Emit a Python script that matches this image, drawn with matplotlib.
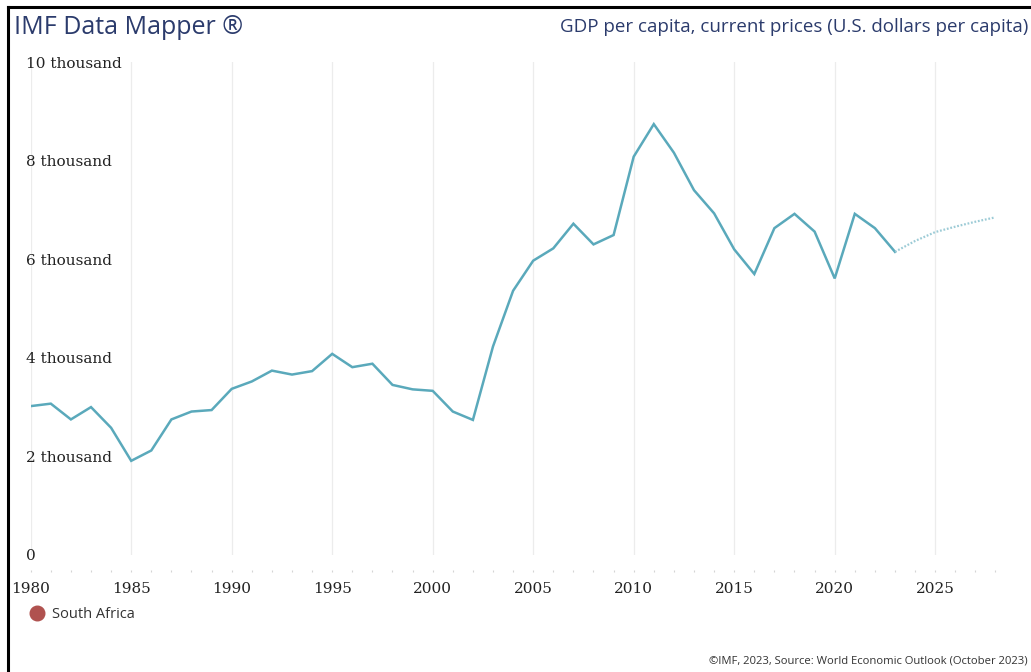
import matplotlib
matplotlib.use("Agg")
from matplotlib import pyplot as plt
from matplotlib.lines import Line2D
import numpy as np

# data (GDP per capita, thousands of US$)
years = list(range(1980, 2024))
gdp = [3.02, 3.07, 2.75, 3.00, 2.58, 1.91, 2.12, 2.75, 2.91, 2.94,
       3.37, 3.52, 3.74, 3.66, 3.73, 4.08, 3.81, 3.88, 3.45, 3.36,
       3.33, 2.91, 2.74, 4.23, 5.36, 5.97, 6.22, 6.72, 6.30, 6.49,
       8.08, 8.74, 8.16, 7.40, 6.93, 6.20, 5.70, 6.63, 6.92, 6.56,
       5.61, 6.92, 6.63, 6.15]
fc_years = [2023, 2024, 2025, 2026, 2027, 2028]
fc_gdp = [6.15, 6.37, 6.55, 6.66, 6.76, 6.85]

yticks = [0, 2, 4, 6, 8, 10]
ylabels = ["0", "2 thousand", "4 thousand", "6 thousand", "8 thousand", "10 thousand"]
xmajor = list(range(1980, 2030, 5))
country = "South Africa"

W, H = 1031, 672
fig = plt.figure(figsize=(W / 100, H / 100), dpi=100)

# axes placed by pixel: 1980 -> x=30.7, 2028 -> x=995.5 ; 0 -> y=555, 10 -> y=62
x0, x1 = 30.7, 995.5
y0, y1 = 555, 62
ax = fig.add_axes([x0 / W, (H - y0) / H, (x1 - x0) / W, (y0 - y1) / H])

line_col = "#5aa9bb"
ax.plot(years, gdp, color=line_col, lw=1.8, solid_joinstyle="miter")
ax.plot(fc_years, fc_gdp, color="#9ccbd6", lw=1.6, ls=(0, (0.8, 0.8)))

ax.set_xlim(1980, 2028)
ax.set_ylim(0, 10)

for s in ["top", "right", "left"]:
    ax.spines[s].set_visible(False)
ax.spines["bottom"].set_position(("outward", 11))
ax.spines["bottom"].set_visible(False)

ax.set_xticks(xmajor)
ax.set_xticks(range(1980, 2029), minor=True)
ax.set_xticklabels([str(x) for x in xmajor], family="DejaVu Serif", fontsize=11, color="#222222")
ax.tick_params(axis="x", which="both", direction="out", length=1.6, width=0.8,
               color="#d4d4d4", pad=7)
ax.grid(axis="x", which="major", color="#ececec", lw=0.9)
ax.set_axisbelow(True)

ax.set_yticks(yticks)
ax.set_yticklabels(ylabels, family="DejaVu Serif", fontsize=11, color="#222222")
ax.tick_params(axis="y", length=0, pad=3.4)
for lb in ax.get_yticklabels():
    lb.set_ha("left")

# titles
fig.text(14 / W, 1 - 28 / H, "IMF Data Mapper ®", family="Open Sans", fontsize=18,
         color="#2b3b6c", va="center", ha="left")
fig.text(1028 / W, 1 - 27 / H, "GDP per capita, current prices (U.S. dollars per capita)",
         family="Open Sans", fontsize=13.5, color="#2b3b6c", va="center", ha="right")
fig.text(1028 / W, 1 - 661 / H, "©IMF, 2023, Source: World Economic Outlook (October 2023)",
         family="Open Sans", fontsize=8.1, color="#333333", va="center", ha="right")

# legend
h = Line2D([], [], marker="o", ls="", color="#b0524f", markersize=10.5)
fig.legend([h], [country], loc="center left", bbox_to_anchor=(29 / W, 1 - 615 / H),
           frameon=False, prop={"family": "Open Sans", "size": 10.5}, labelcolor="#333333",
           handletextpad=0.45, borderpad=0, borderaxespad=0, handlelength=1.1)

# frame lines (left and top)
fig.add_artist(Line2D([8 / W, 8 / W], [0, 1 - 7 / H], transform=fig.transFigure,
                      color="black", lw=2.2))
fig.add_artist(Line2D([8 / W, 1], [1 - 7 / H, 1 - 7 / H], transform=fig.transFigure,
                      color="black", lw=2.2))

fig.savefig("out.png", dpi=100)
